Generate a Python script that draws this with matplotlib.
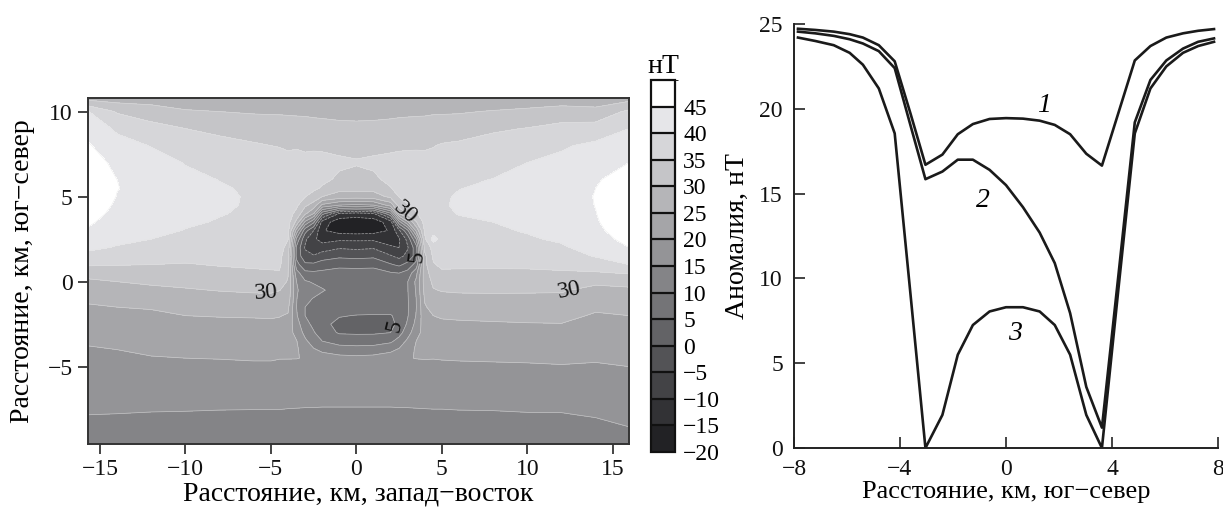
import numpy as np
import matplotlib
matplotlib.use("Agg")
import matplotlib.pyplot as plt
from matplotlib.colors import ListedColormap, BoundaryNorm

plt.rcParams['font.family'] = ['Liberation Serif', 'DejaVu Serif']

# ---------------- data: anomaly map (nT) ----------------
grid_x = [-15.7, -14, -12, -10, -8, -6, -5, -4.5, -4, -3.5, -3, -2.5, -2, -1, 0,
          1, 2, 2.5, 3, 3.5, 4, 4.5, 5, 6, 8, 10, 12, 14, 15.95]
grid_y = [-9.55, -8, -7, -6, -5, -4.5, -4, -3.5, -3, -2.5, -2, -1.5, -1, -0.5, 0,
          0.5, 1, 1.5, 2, 2.5, 3, 3.5, 4, 4.5, 5, 5.5, 6, 7, 8, 9, 10, 10.8]

# one list per x column (values bottom -> top, matching grid_y)
anomaly_columns = [
    [12.0, 14.8, 16.0, 17.2, 18.4, 19.0, 19.6, 20.5, 21.5, 22.4, 23.3, 24.5, 25.8, 27.3, 29.0, 32.0, 35.5, 38.5, 41.0, 43.0, 44.6, 45.6, 46.5, 47.2, 47.6, 47.8, 47.7, 47.0, 45.5, 43.2, 40.2, 28.0],
    [12.0, 14.7, 16.0, 17.4, 18.7, 19.35, 20.0, 21.0, 22.0, 22.8, 23.7, 25.0, 26.4, 28.1, 30.0, 32.6, 35.2, 37.6, 39.6, 41.2, 42.4, 43.3, 44.0, 44.5, 44.9, 45.1, 45.0, 44.0, 41.8, 39.2, 34.5, 27.5],
    [12.0, 14.5, 16.0, 17.5, 19.0, 19.8, 20.6, 21.5, 22.5, 23.2, 24.0, 25.4, 27.0, 28.9, 30.8, 33.0, 35.0, 36.9, 38.5, 40.0, 41.3, 42.3, 43.0, 43.6, 43.8, 43.8, 43.4, 42.0, 39.8, 37.0, 32.0, 28.0],
    [12.0, 14.4, 16.0, 17.6, 19.2, 20.0, 20.8, 21.7, 22.7, 23.8, 25.0, 26.4, 28.0, 29.6, 31.2, 33.0, 34.7, 36.3, 37.6, 38.8, 39.8, 40.6, 41.2, 41.5, 41.6, 41.5, 41.0, 39.8, 37.4, 35.0, 30.5, 27.0],
    [12.0, 14.2, 16.0, 17.6, 19.3, 20.1, 21.0, 22.0, 23.0, 24.1, 25.2, 26.8, 28.5, 30.2, 32.0, 33.7, 35.3, 36.5, 37.4, 38.3, 39.0, 39.7, 40.2, 40.5, 40.6, 40.4, 39.9, 38.6, 36.6, 33.8, 30.0, 26.8],
    [12.0, 14.1, 16.0, 17.6, 19.4, 20.3, 21.2, 22.2, 23.2, 24.2, 25.3, 27.0, 28.8, 30.6, 32.5, 34.2, 35.7, 36.6, 37.3, 38.0, 38.6, 39.1, 39.4, 39.6, 39.6, 39.4, 39.0, 37.6, 35.6, 32.5, 29.6, 26.8],
    [12.0, 14.1, 16.0, 17.6, 19.4, 20.3, 21.2, 22.2, 23.2, 24.3, 25.4, 27.1, 28.9, 30.6, 32.5, 34.5, 35.8, 36.5, 37.0, 37.6, 38.0, 38.4, 38.7, 38.8, 38.8, 38.6, 38.2, 37.0, 35.0, 32.3, 29.5, 26.8],
    [12.0, 14.1, 16.0, 17.6, 19.3, 20.1, 21.0, 22.0, 23.0, 24.1, 25.2, 26.8, 28.5, 30.1, 32.0, 34.6, 35.8, 36.4, 36.8, 37.2, 37.5, 37.8, 38.0, 38.1, 38.1, 38.0, 37.7, 36.7, 34.8, 32.2, 29.5, 26.8],
    [12.0, 14.1, 15.8, 17.3, 19.2, 20.1, 20.7, 21.2, 22.0, 23.0, 24.6, 26.0, 27.8, 29.0, 29.6, 30.4, 31.2, 31.5, 33.5, 35.2, 36.5, 37.0, 37.3, 37.5, 37.6, 37.5, 37.3, 36.3, 34.4, 32.1, 29.4, 26.8],
    [12.0, 14.0, 15.8, 17.3, 19.0, 20.1, 20.3, 20.2, 18.5, 17.0, 15.5, 15.0, 15.2, 15.6, 15.0, 12.0, 7.0, 3.5, 4.0, 9.0, 18.0, 28.5, 33.5, 36.0, 37.0, 37.3, 37.2, 36.5, 34.6, 32.0, 29.3, 26.6],
    [12.0, 14.0, 15.7, 17.3, 18.6, 19.8, 19.0, 16.0, 13.5, 11.8, 10.0, 10.0, 11.0, 12.5, 10.5, 6.5, 1.0, -3.5, -5.5, -4.0, 2.0, 14.0, 26.0, 31.0, 35.2, 36.5, 36.8, 36.6, 34.0, 32.0, 29.2, 26.5],
    [12.0, 14.0, 15.7, 17.2, 18.0, 18.5, 15.5, 12.5, 10.5, 8.7, 7.6, 8.3, 9.8, 11.5, 9.5, 6.0, 1.0, -4.5, -8.5, -9.0, -5.0, 6.0, 20.0, 28.0, 33.0, 36.0, 36.6, 36.5, 34.3, 31.8, 29.0, 26.4],
    [12.0, 14.0, 15.6, 17.0, 17.6, 17.2, 14.0, 10.0, 7.0, 5.8, 6.0, 7.2, 8.6, 10.4, 8.6, 6.2, 2.5, -2.5, -7.5, -12.0, -14.5, -12.0, 2.0, 19.0, 30.0, 34.5, 36.0, 36.4, 34.2, 31.6, 28.9, 26.3],
    [12.0, 14.0, 15.6, 17.0, 17.2, 16.3, 12.8, 7.5, 4.6, 4.2, 5.2, 6.6, 7.6, 8.2, 7.9, 6.8, 3.8, -1.0, -5.5, -11.0, -17.0, -18.3, -10.5, 15.0, 27.8, 31.5, 34.2, 35.8, 33.8, 31.3, 28.6, 26.1],
    [12.0, 14.0, 15.6, 17.0, 17.0, 16.0, 12.5, 7.0, 4.5, 4.0, 4.9, 6.3, 7.3, 7.8, 7.8, 6.8, 3.5, -1.5, -6.0, -11.0, -17.5, -18.8, -12.0, 14.0, 27.5, 31.5, 33.3, 35.4, 33.5, 31.2, 28.5, 26.0],
    [12.0, 14.0, 15.6, 17.0, 17.2, 16.3, 12.8, 7.2, 4.5, 4.0, 4.8, 6.3, 7.3, 7.8, 7.8, 6.8, 3.8, -1.0, -5.5, -11.0, -17.0, -18.0, -10.5, 15.0, 27.8, 31.5, 34.2, 35.8, 33.8, 31.3, 28.6, 26.1],
    [12.0, 14.0, 15.6, 17.0, 17.6, 17.2, 14.0, 9.0, 5.0, 4.3, 4.8, 6.2, 7.6, 8.4, 8.2, 5.5, 0.5, -4.5, -9.0, -13.0, -14.5, -12.5, 4.0, 22.0, 31.0, 34.8, 36.0, 36.2, 34.1, 31.6, 28.8, 26.3],
    [12.0, 14.0, 15.7, 17.2, 18.1, 18.5, 15.5, 12.0, 8.0, 5.6, 5.8, 7.2, 8.5, 9.2, 8.8, 5.0, -1.0, -6.5, -10.0, -10.5, -6.0, 8.0, 25.0, 32.0, 35.2, 36.5, 36.7, 36.4, 34.3, 31.8, 29.0, 26.4],
    [12.0, 14.0, 15.7, 17.2, 18.5, 19.8, 19.0, 16.0, 13.0, 10.8, 9.6, 9.5, 9.6, 9.8, 9.9, 7.0, 1.5, -3.5, -5.5, -3.5, 4.0, 19.0, 31.0, 34.8, 36.5, 36.8, 36.8, 36.5, 34.4, 31.9, 29.1, 26.5],
    [12.0, 14.0, 15.8, 17.3, 18.8, 20.1, 20.3, 20.0, 18.0, 16.5, 15.3, 14.8, 15.0, 15.5, 16.0, 13.5, 7.0, 2.0, 3.0, 10.0, 21.0, 29.5, 34.5, 36.5, 37.0, 37.2, 37.1, 36.4, 34.5, 32.0, 29.2, 26.6],
    [12.0, 14.1, 15.8, 17.2, 19.0, 20.2, 20.7, 21.2, 22.0, 22.8, 23.6, 24.5, 25.5, 26.5, 27.0, 27.5, 28.5, 28.8, 31.5, 34.0, 35.8, 36.6, 37.0, 37.3, 37.4, 37.3, 37.1, 36.2, 34.5, 32.0, 29.3, 26.7],
    [12.0, 14.1, 15.9, 17.4, 19.2, 20.1, 20.9, 21.6, 22.6, 23.8, 25.0, 26.5, 28.0, 29.7, 31.0, 32.8, 34.6, 35.8, 36.6, 42.0, 37.6, 38.0, 38.2, 38.3, 38.2, 38.0, 37.6, 36.6, 34.8, 32.2, 29.5, 26.7],
    [12.0, 14.1, 15.9, 17.5, 19.3, 20.2, 21.0, 21.9, 22.9, 24.2, 25.5, 27.0, 28.6, 30.3, 32.3, 34.3, 35.8, 36.8, 37.6, 38.3, 38.9, 39.3, 39.6, 39.7, 39.6, 39.3, 38.8, 37.3, 35.4, 32.5, 29.5, 26.6],
    [12.1, 14.2, 16.0, 17.6, 19.4, 20.3, 21.2, 22.1, 23.1, 24.4, 25.7, 27.2, 28.8, 30.6, 32.5, 34.3, 35.7, 36.7, 37.5, 38.3, 39.0, 39.6, 40.1, 40.4, 40.3, 39.9, 39.3, 37.7, 35.8, 32.8, 29.6, 26.6],
    [12.2, 14.3, 16.0, 17.7, 19.5, 20.4, 21.3, 22.2, 23.2, 24.6, 25.9, 27.3, 28.9, 30.7, 32.5, 34.2, 35.7, 36.8, 37.8, 38.7, 39.4, 40.0, 40.5, 40.8, 40.8, 40.6, 40.1, 38.7, 37.0, 34.3, 30.3, 26.8],
    [12.3, 14.5, 16.1, 17.8, 19.6, 20.5, 21.3, 22.2, 23.2, 24.8, 26.0, 27.3, 28.9, 30.6, 32.4, 34.2, 35.8, 37.2, 38.4, 39.5, 40.3, 40.9, 41.3, 41.5, 41.5, 41.3, 41.0, 40.0, 38.0, 35.2, 31.0, 27.0],
    [12.5, 14.5, 16.2, 18.0, 19.8, 20.6, 21.4, 22.2, 23.2, 24.9, 26.0, 27.2, 28.8, 30.5, 32.4, 34.4, 36.3, 38.0, 39.4, 40.6, 41.6, 42.3, 42.7, 42.9, 42.9, 42.6, 42.2, 41.0, 39.5, 36.6, 32.0, 27.3],
    [12.5, 15.0, 16.6, 18.0, 19.6, 20.4, 21.2, 22.0, 22.8, 23.7, 24.6, 25.6, 26.8, 28.6, 31.0, 34.5, 37.5, 40.3, 41.8, 43.0, 44.0, 44.6, 44.9, 45.1, 45.2, 45.0, 44.5, 42.6, 41.0, 37.2, 31.5, 27.0],
    [13.5, 15.8, 17.0, 18.3, 20.0, 20.7, 21.4, 22.2, 23.0, 24.0, 25.0, 26.0, 27.0, 29.0, 31.8, 35.3, 40.0, 43.0, 45.0, 46.5, 47.5, 48.0, 48.3, 48.4, 48.3, 48.0, 47.3, 45.0, 42.6, 40.0, 36.0, 28.0],
]

levels = list(range(-20, 55, 5))
label_levels = [5, 30]
label_spots = [(-5.3, -0.63), (12.5, -0.75), (2.8, 4.0), (3.65, 1.5), (2.2, -2.6)]

# ---------------- data: profiles (right panel) ----------------
profile_x = [-7.85, -7.2, -6.5, -5.9, -5.4, -4.8, -4.2, -3.6, -3.04, -2.4, -1.82, -1.25,
             -0.62, 0.0, 0.64, 1.27, 1.84, 2.42, 3.03, 3.62, 4.25, 4.86, 5.45, 6.05,
             6.68, 7.25, 7.85]
curve_1 = [24.72, 24.65, 24.55, 24.4, 24.2, 23.75, 22.8, 19.7, 16.7, 17.3, 18.5, 19.1,
           19.4, 19.45, 19.42, 19.3, 19.05, 18.5, 17.35, 16.65, 19.8, 22.85, 23.7, 24.2,
           24.45, 24.6, 24.7]
curve_2 = [24.55, 24.45, 24.3, 24.1, 23.85, 23.4, 22.4, 19.0, 15.85, 16.3, 17.0, 17.0,
           16.4, 15.5, 14.2, 12.7, 10.9, 7.95, 3.6, 1.2, 10.3, 19.2, 21.7, 22.85,
           23.55, 23.95, 24.15]
curve_3 = [24.2, 24.0, 23.75, 23.3, 22.6, 21.2, 18.55, 9.0, 0.0, 1.95, 5.5, 7.25,
           8.05, 8.3, 8.3, 8.05, 7.25, 5.5, 1.95, 0.0, 9.5, 18.55, 21.2, 22.5,
           23.3, 23.7, 23.95]
curve_names = ['1', '2', '3']
curve_label_pos = [(1.42, 20.2), (-0.87, 14.6), (0.33, 6.75)]

# ---------------- figure ----------------
W, H = 1223, 507
fig = plt.figure(figsize=(W / 100, H / 100), dpi=100)

def frac(x0, y0, x1, y1):
    return [x0 / W, 1 - y1 / H, (x1 - x0) / W, (y1 - y0) / H]

ax = fig.add_axes(frac(88, 98, 629, 444))
cax = fig.add_axes(frac(651, 80, 675, 452))
ax2 = fig.add_axes(frac(794, 24, 1218, 448))

FS = 17      # tick labels
LFS = 20     # axis labels

greys = [34, 50, 67, 83, 99, 116, 132, 148, 165, 181, 197, 214, 230, 255]
cols = [(g / 255, g / 255, min(g + 3, 255) / 255) for g in greys]
cmap = ListedColormap(cols)
norm = BoundaryNorm(levels, cmap.N)

X, Y = np.meshgrid(np.array(grid_x), np.array(grid_y))
Z = np.array(anomaly_columns).T

cf = ax.contourf(X, Y, Z, levels=levels, cmap=cmap, norm=norm)
ax.contour(X, Y, Z, levels=levels, colors='#e4e4e4', linewidths=0.5, alpha=0.6)
cs = ax.contour(X, Y, Z, levels=label_levels, colors='none', linewidths=0)
ax.clabel(cs, manual=label_spots, inline=False, fmt='%d', fontsize=FS, colors='#111111')

ax.set_xlim(-15.7, 15.95)
ax.set_ylim(-9.55, 10.8)
ax.set_xticks([-15, -10, -5, 0, 5, 10, 15])
ax.set_yticks([-5, 0, 5, 10])
ax.tick_params(direction='out', length=7, width=1.1, labelsize=FS, pad=4, colors='#111111')
for s in ax.spines.values():
    s.set_linewidth(1.4)
    s.set_color('#333333')
ax.set_xlabel('Расстояние, км, запад−восток', fontsize=LFS, labelpad=1)
ax.set_ylabel('Расстояние, км, юг−север', fontsize=LFS, labelpad=9)

cb = fig.colorbar(cf, cax=cax, ticks=levels[:-1], drawedges=True)
cb.outline.set_linewidth(1.6)
cb.outline.set_edgecolor('#111111')
cb.dividers.set_color('#111111')
cb.dividers.set_linewidth(1.6)
cax.tick_params(length=0, pad=6, labelsize=FS)
cax.set_title('нТ', fontsize=LFS, pad=5)

# ---------------- right panel ----------------
for yy in (curve_1, curve_2, curve_3):
    ax2.plot(profile_x, yy, color='#1a1a1a', lw=1.9)
for name, (tx, ty) in zip(curve_names, curve_label_pos):
    ax2.text(tx, ty, name, fontsize=LFS, style='italic', ha='center', va='center')
ax2.set_xlim(-8, 8)
ax2.set_ylim(0, 25)
ax2.set_xticks([-8, -4, 0, 4, 8])
ax2.set_yticks([0, 5, 10, 15, 20, 25])
ax2.spines['top'].set_visible(False)
ax2.spines['right'].set_visible(False)
for s in ('left', 'bottom'):
    ax2.spines[s].set_linewidth(1.4)
    ax2.spines[s].set_color('#222222')
ax2.tick_params(direction='in', length=8, width=1.1, labelsize=FS, colors='#111111')
ax2.tick_params(axis='x', pad=8)
ax2.tick_params(axis='y', pad=8)
ax2.set_xlabel('Расстояние, км, юг−север', fontsize=19)
ax2.xaxis.set_label_coords(0.5, -0.079)
ax2.xaxis.label.set_va('top')
ax2.set_ylabel('Аномалия, нТ', fontsize=LFS, labelpad=7)

fig.savefig('out.png', dpi=100)
